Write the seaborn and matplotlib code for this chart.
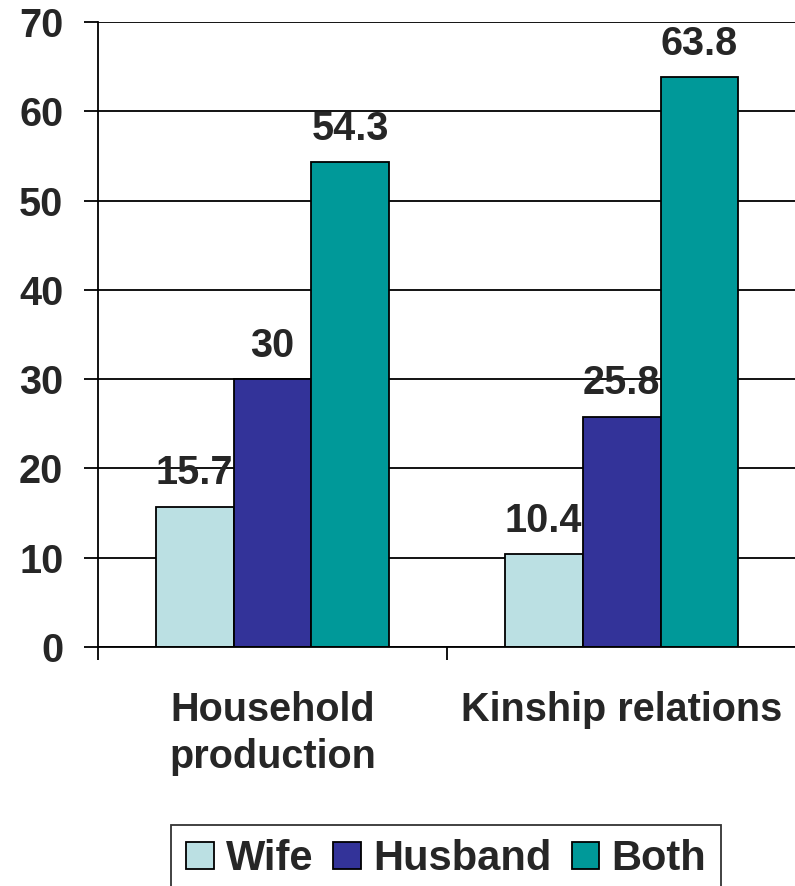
import matplotlib
matplotlib.use("Agg")
import matplotlib.pyplot as plt
import seaborn as sns
import pandas as pd

# data
areas = ["Household\nproduction", "Kinship relations"]
who = ["Wife", "Husband", "Both"]
wife = [15.7, 10.4]
husband = [30, 25.8]
both = [54.3, 63.8]
colors = ["#BBE0E3", "#333399", "#009999"]

rows = []
for i, area in enumerate(areas):
    for name, vals in zip(who, [wife, husband, both]):
        rows.append({"area": area, "who": name, "pct": vals[i]})
df = pd.DataFrame(rows)

sns.set_style("white")
plt.rcParams["font.family"] = ["Liberation Sans", "DejaVu Sans"]
plt.rcParams["font.weight"] = "bold"
fs = 28.5

fig = plt.figure(figsize=(7.95, 8.86), dpi=100)
ax = fig.add_axes([0.1233, 0.2698, 0.878, 0.7054])

sns.barplot(data=df, x="area", y="pct", hue="who", hue_order=who, order=areas,
            palette=colors, width=0.67, edgecolor="black", linewidth=1.3,
            saturation=1, ax=ax)

# value labels above bars
for cont, vals in zip(ax.containers, [wife, husband, both]):
    ax.bar_label(cont, labels=[f"{v:g}" for v in vals], padding=10.5,
                 fontsize=fs, fontweight="bold")

ax.set_ylim(0, 70)
ax.set_xlim(-0.5, 1.5)
ax.set_yticks(range(0, 71, 10))
ax.yaxis.grid(True, color="black", linewidth=1.3)
ax.set_axisbelow(True)
ax.set_xlabel("")
ax.set_ylabel("")

for side in ["top", "right"]:
    ax.spines[side].set_visible(False)
for side in ["left", "bottom"]:
    ax.spines[side].set_color("black")
    ax.spines[side].set_linewidth(1.3)

ax.tick_params(axis="y", length=10, width=1.3, pad=15, labelsize=fs,
               color="black", left=True)
ax.set_xticks([0, 1])
ax.set_xticklabels(areas, fontsize=fs, fontweight="bold", linespacing=1.3)
ax.tick_params(axis="x", length=0, pad=32)
ax.set_xticks([-0.5, 0.5, 1.5], minor=True)
ax.tick_params(axis="x", which="minor", length=9.5, width=1.3,
               color="black", bottom=True)

handles, labels = ax.get_legend_handles_labels()
ax.get_legend().remove()
fig.legend(handles, labels, loc="upper center", bbox_to_anchor=(0.561, 0.069),
           ncol=3, frameon=True, fancybox=False, edgecolor="black",
           prop={"size": 30, "weight": "bold"}, handlelength=0.67,
           handleheight=0.62, handletextpad=0.29, columnspacing=0.48,
           borderpad=0.35, borderaxespad=0)
fig.legends[0].get_frame().set_linewidth(1.3)

fig.savefig("out.png", dpi=100)
